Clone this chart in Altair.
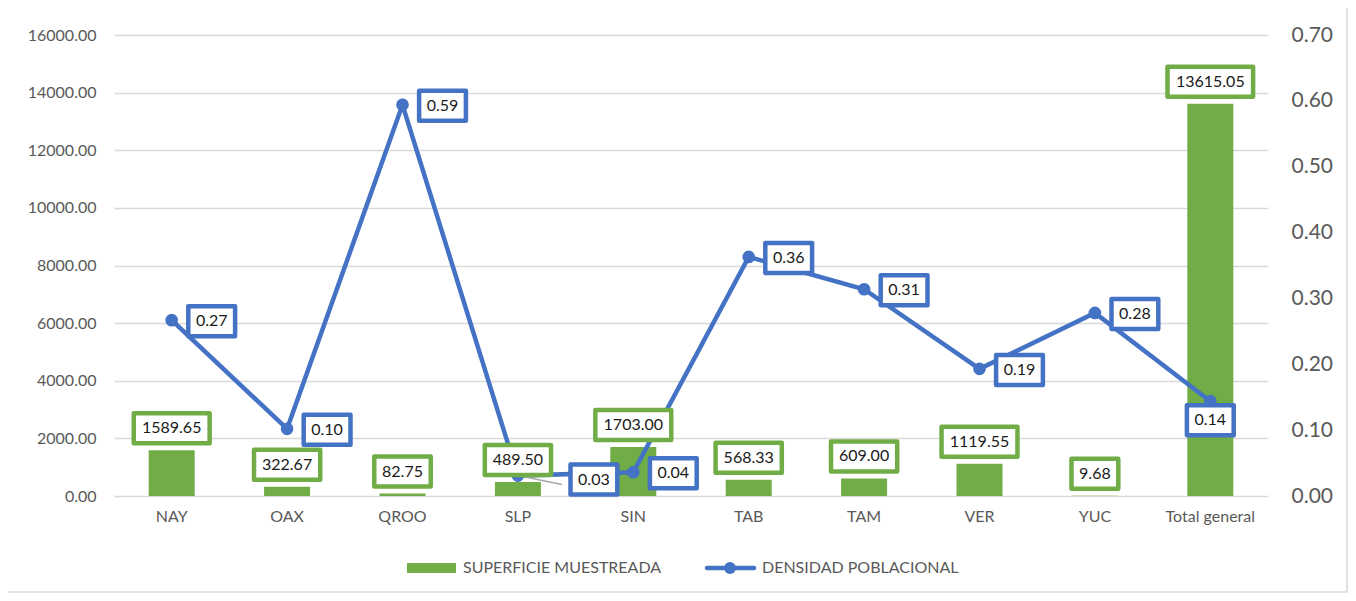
import altair as alt
import pandas as pd

categories = ["NAY", "OAX", "QROO", "SLP", "SIN", "TAB", "TAM", "VER", "YUC", "Total general"]
superficie = [1589.65, 322.67, 82.75, 489.50, 1703.00, 568.33, 609.00, 1119.55, 9.68, 13615.05]
densidad = [0.267, 0.102, 0.594, 0.031, 0.036, 0.363, 0.314, 0.193, 0.278, 0.144]

GREEN = "#70AD47"
BLUE = "#4472C4"
GRID = "#D9D9D9"
TXT = "#595959"
FONT = "Lato"
LMAX, RMAX = 16000, 0.7


def box_path(label, h=30):
    w = 8 + 9.7 * len(label)
    return f"M{-w/2},{-h/2}H{w/2}V{h/2}H{-w/2}Z"


df = pd.DataFrame({"cat": categories, "sup": superficie, "dens": densidad})
df["sup_lbl"] = [f"{v:.2f}" for v in superficie]
df["dens_lbl"] = [f"{v:.2f}" for v in densidad]
df["gbox"] = [box_path(s) for s in df["sup_lbl"]]
df["bbox"] = [box_path(s) for s in df["dens_lbl"]]

W, H = 1154, 461

xc = alt.X("cat:N", sort=categories, title=None)
x = alt.X("cat:N", sort=categories, title=None,
          scale=alt.Scale(paddingInner=0, paddingOuter=0),
          axis=alt.Axis(labelAngle=0, ticks=False, grid=False, domain=False,
                        labelColor=TXT, labelFont=FONT, labelFontSize=16, labelPadding=12))

yL = alt.Y("sup:Q", title=None,
           scale=alt.Scale(domain=[0, LMAX], nice=False),
           axis=alt.Axis(values=list(range(0, 16001, 2000)), format=".2f", ticks=False,
                         domain=False, grid=True, gridColor=GRID, gridWidth=1.3, labelColor=TXT,
                         labelFont=FONT, labelFontSize=16, labelPadding=18))

yR_scale = alt.Scale(domain=[0, RMAX], nice=False)
yR = alt.Y("dens:Q", title=None, scale=yR_scale,
           axis=alt.Axis(orient="right", values=[0, 0.1, 0.2, 0.3, 0.4, 0.5, 0.6, 0.7],
                         format=".2f", ticks=False, domain=False, grid=False,
                         labelColor=TXT, labelFont=FONT, labelFontSize=21, labelPadding=23))
yR_n = alt.Y("dens:Q", title=None)
yR_sup = alt.Y("sup_r:Q", title=None)

base = alt.Chart(df).transform_calculate(sup_r=f"datum.sup * {RMAX} / {LMAX}")

# border
border = alt.Chart(pd.DataFrame({"a": [0]})).mark_rect(
    fill="white", fillOpacity=0, stroke=GRID, strokeWidth=1.5
).encode(x=alt.value(-107), x2=alt.value(1233), y=alt.value(-30), y2=alt.value(557))

bars = base.mark_bar(color=GREEN, width=46).encode(x=x, y=yL)

line = base.mark_line(color=BLUE, strokeWidth=4.5).encode(x=xc, y=yR)
pts = base.mark_point(filled=True, color=BLUE, size=160, opacity=1).encode(x=xc, y=yR_n)

leader = base.transform_filter(alt.datum.cat == "SLP").mark_rule(
    color="#A6A6A6", strokeWidth=1.5, x2Offset=44, y2Offset=9).encode(
    x=xc, y=yR_n, x2=alt.X2("cat:N"), y2=alt.Y2("dens:Q"))

gboxes = base.mark_point(filled=True, fill="white", stroke=GREEN, strokeWidth=4.5,
                         size=4, opacity=1, yOffset=-22, strokeJoin="round").encode(
    x=xc, y=yR_sup, shape=alt.Shape("gbox:N", scale=None))
gtext = base.mark_text(font=FONT, fontSize=16, color="#1a1a1a", yOffset=-22,
                       baseline="middle").encode(x=xc, y=yR_sup, text="sup_lbl:N")


def blue_label(flt, dx, dy):
    b = base.transform_filter(flt)
    bx = b.mark_point(filled=True, fill="white", stroke=BLUE, strokeWidth=4.5, size=4,
                      opacity=1, xOffset=dx, yOffset=dy, strokeJoin="round").encode(
        x=xc, y=yR_n, shape=alt.Shape("bbox:N", scale=None))
    tx = b.mark_text(font=FONT, fontSize=16, color="#1a1a1a", xOffset=dx, yOffset=dy,
                     baseline="middle").encode(x=xc, y=yR_n, text="dens_lbl:N")
    return [bx, tx]


normal = (alt.datum.cat != "SLP") & (alt.datum.cat != "Total general")
blabels = (blue_label(normal, 40, 1)
           + blue_label(alt.datum.cat == "SLP", 76, 4)
           + blue_label(alt.datum.cat == "Total general", 0, 19))

right = alt.layer(line, pts, leader, gboxes, gtext, *blabels)

# legend (decoration)
lg = alt.Chart(pd.DataFrame({"a": [0]}))
leg_sw = lg.mark_rect(color=GREEN).encode(x=alt.value(293), x2=alt.value(342),
                                          y=alt.value(528), y2=alt.value(538))
leg_t1 = lg.mark_text(text="SUPERFICIE MUESTREADA", font=FONT, fontSize=16, color=TXT,
                      align="left", baseline="middle").encode(x=alt.value(349), y=alt.value(533))
leg_ln = lg.mark_rule(color=BLUE, strokeWidth=4.5, strokeCap="round").encode(
    x=alt.value(593), x2=alt.value(640), y=alt.value(533))
leg_pt = lg.mark_point(filled=True, color=BLUE, size=140, opacity=1).encode(
    x=alt.value(616), y=alt.value(533))
leg_t2 = lg.mark_text(text="DENSIDAD POBLACIONAL", font=FONT, fontSize=16, color=TXT,
                      align="left", baseline="middle").encode(x=alt.value(648), y=alt.value(533))

chart = alt.layer(border, bars, right, leg_sw, leg_t1, leg_ln, leg_pt, leg_t2).resolve_scale(
    y="independent"
).properties(
    width=W, height=H,
    background="white",
    autosize=alt.AutoSizeParams(type="none"),
    padding={"left": 106, "top": 27, "right": 80, "bottom": 97},
).configure_view(stroke=None).configure_axis(
    domain=False, ticks=False, grid=False
)

chart.save("out.html", embed_options={"renderer": "svg", "actions": False})
